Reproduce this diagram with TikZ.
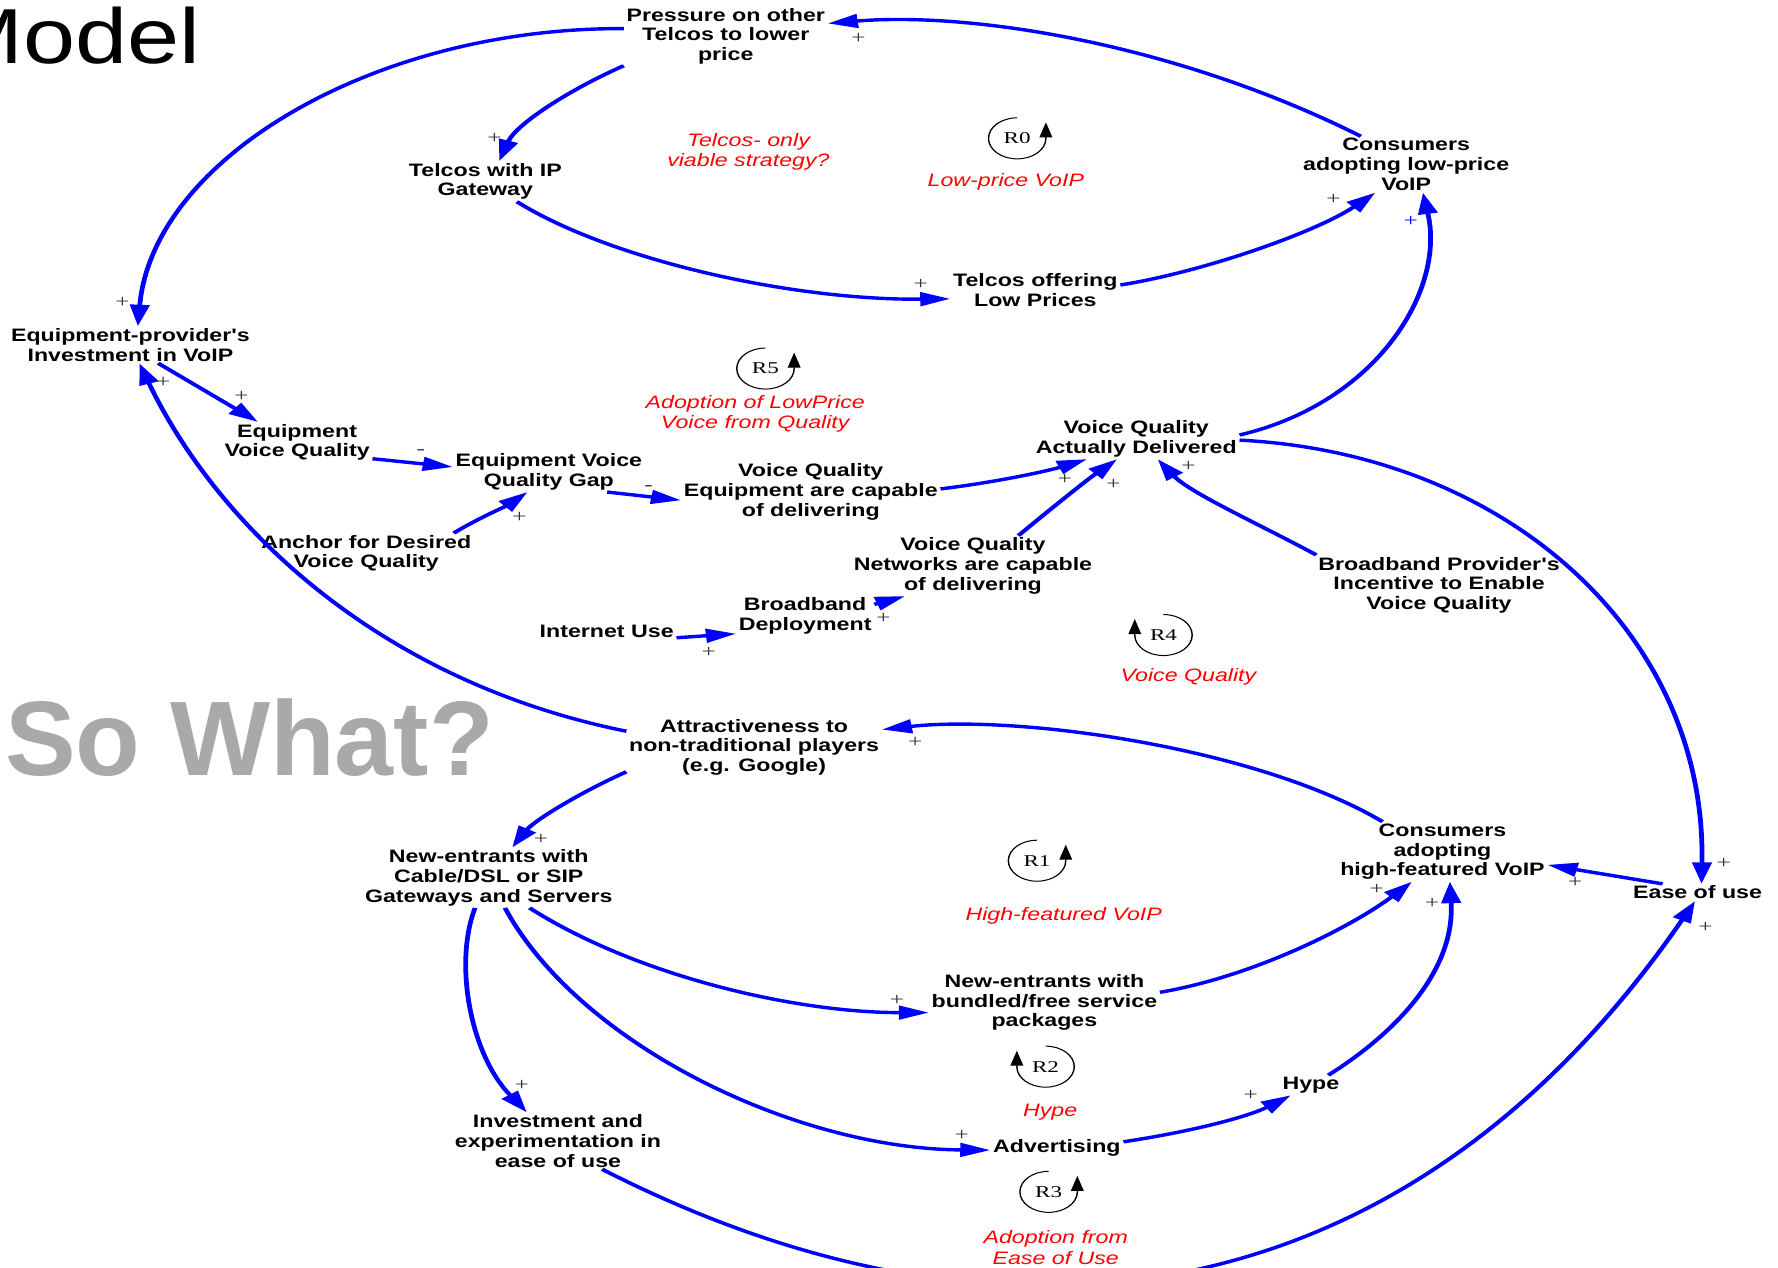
\documentclass[tikz,border=0pt]{standalone}
\usepackage{fontspec}
\setmainfont{Liberation Sans}
\newfontfamily\lblfont{Liberation Sans}[FakeStretch=0.92]
\newfontfamily\loopfont{Liberation Serif}
\newfontfamily\titlefont{Liberation Sans}[FakeStretch=1.2]
\usetikzlibrary{arrows.meta}
\definecolor{linkblue}{RGB}{0,0,255}
\definecolor{swgray}{RGB}{169,169,169}
\definecolor{loopred}{RGB}{255,0,0}

\tikzset{
  var/.style={align=center, inner sep=2pt, outer sep=0pt,
    font=\lblfont\bfseries\fontsize{18}{19.8}\selectfont},
  link/.style={draw=linkblue, line width=3.4pt,
    -{Triangle[length=21.5pt,width=13.5pt]}},
  polar/.style={inner sep=0pt, text=black!80,
    font=\loopfont\fontsize{18}{18}\selectfont},
  loopname/.style={inner sep=0pt, font=\loopfont\fontsize{16.5}{16.5}\selectfont},
  loopdesc/.style={align=center, inner sep=0pt, text=loopred,
    font=\lblfont\itshape\fontsize{18}{20.4}\selectfont},
  looparrow/.style={draw=black, line width=1pt,
    -{Triangle[length=15pt,width=9pt]}},
}

\begin{document}
\begin{tikzpicture}
\useasboundingbox (0pt,0pt) rectangle (1778pt,-1268pt);

% slide titles
\node[anchor=base east, inner sep=0pt,
  font=\titlefont\fontsize{78}{78}\selectfont] (title) at (201pt,-63.3pt) {Model};
\node[anchor=base west, inner sep=0pt, text=swgray,
  font=\bfseries\fontsize{106}{106}\selectfont] (sowhat) at (5pt,-775pt) {So What?};

% causal loop diagram, drawn in a horizontally widened canvas
\begin{scope}[x=0.81pt, y=-1.134pt, transform canvas={xscale=1.4}]

% variables
\node[var] (press)   at (640,32)   {Pressure on other\\Telcos to lower\\price};
\node[var] (ipgw)    at (428,160)  {Telcos with IP\\Gateway};
\node[var] (cheap)   at (1240,145) {Consumers\\adopting low-price\\VoIP};
\node[var] (lowpr)   at (913,256)  {Telcos offering\\Low Prices};
\node[var] (eqinv)   at (115,304)  {Equipment-provider's\\Investment in VoIP};
\node[var] (eqvq)    at (262,390)  {Equipment\\Voice Quality};
\node[var] (gap)     at (484,416)  {Equipment Voice\\Quality Gap};
\node[var] (eqcap)   at (715,434)  {Voice Quality\\Equipment are capable\\of delivering};
\node[var] (vqad)    at (1002,387) {Voice Quality\\Actually Delivered};
\node[var] (anch)    at (323,488)  {Anchor for Desired\\Voice Quality};
\node[var] (netcap)  at (858,499)  {Voice Quality\\Networks are capable\\of delivering};
\node[var] (bbinc)   at (1269,516) {Broadband Provider's\\Incentive to Enable\\Voice Quality};
\node[var] (bbdep)   at (710,543)  {Broadband\\Deployment};
\node[var] (inet)    at (535,557)  {Internet Use};
\node[var] (attr)    at (665,659)  {Attractiveness to\\non-traditional players\\(e.g. Google)};
\node[var] (newcab)  at (431,774)  {New-entrants with\\Cable/DSL or SIP\\Gateways and Servers};
\node[var] (rich)    at (1272,751) {Consumers\\adopting\\high-featured VoIP};
\node[var] (ease)    at (1497,787) {Ease of use};
\node[var] (bundle)  at (921,884)  {New-entrants with\\bundled/free service\\packages};
\node[var] (hype)    at (1156,957) {Hype};
\node[var] (easeinv) at (492,1006) {Investment and\\experimentation in\\ease of use};
\node[var] (advert)  at (932,1012) {Advertising};

% causal links
\draw[link] (cheap.139) .. controls (1040,40) and (860,10) .. (press.10);
\draw[link] (press.174) .. controls (330,24) and (135,140) .. (eqinv.74);
\draw[link] (press.202) .. controls (500,80) and (455,110) .. (ipgw.64);
\draw[link] (ipgw.318) .. controls (540,230) and (700,265) .. (lowpr.188);
\draw[link] (lowpr.5) .. controls (1060,240) and (1160,205) .. (cheap.232);
\draw[link] (vqad.3.5) .. controls (1215,355) and (1275,255) .. (cheap.293);
\draw[link] (vqad.359) .. controls (1330,400) and (1505,560) .. (ease.72);
\draw[link] (eqinv.317) -- (eqvq.144);
\draw[link] (attr.170) .. controls (330,600) and (190,460) .. (eqinv.289);
\draw[link] (eqvq.343) -- (gap.176);
\draw[link] (anch.18) .. controls (420,458) and (445,447) .. (gap.233);
\draw[link] (gap.334) -- (eqcap.185);
\draw[link] (eqcap.2) .. controls (880,425) and (925,415) .. (vqad.210);
\draw[link] (netcap.43) .. controls (925,450) and (960,422) .. (vqad.236);
\draw[link] (bbinc.161) .. controls (1110,462) and (1050,435) .. (vqad.307);
\draw[link] (inet.353) -- (bbdep.200);
\draw[link] (bbdep.13) -- (netcap.212);
\draw[link] (attr.195) .. controls (505,702) and (470,725) .. (newcab.61);
\draw[link] (rich.145) .. controls (1110,660) and (900,630) .. (attr.11);
\draw[link] (newcab.314) .. controls (560,860) and (700,893) .. (bundle.187);
\draw[link] (newcab.291) .. controls (510,920) and (700,1013) .. (advert.183);
\draw[link] (newcab.252) .. controls (400,850) and (415,930) .. (easeinv.128);
\draw[link] (bundle.7) .. controls (1110,860) and (1195,815) .. (rich.234);
\draw[link] (advert.7) .. controls (1050,998) and (1100,985) .. (hype.215);
\draw[link] (hype.39) .. controls (1240,905) and (1283,850) .. (rich.280);
\draw[link] (ease.161) -- (rich.350);
\draw[link] (easeinv.318) .. controls (891,1215) and (1244,1158) .. (ease.258);

% link polarities
\node[polar] (p1)  at (757,34)   {+};
\node[polar] (p2)  at (436,122)  {+};
\node[polar] (p3)  at (108,267)  {+};
\node[polar] (p4)  at (812,251)  {+};
\node[polar] (p5)  at (1176,176) {+};
\node[polar, text=linkblue] (p6) at (1244,195) {+};
\node[polar] (p7)  at (144,337)  {+};
\node[polar] (p8)  at (213,350)  {+};
\node[polar] (p9)  at (371,399)  {-};
\node[polar] (p10) at (458,456)  {+};
\node[polar] (p11) at (572,430)  {-};
\node[polar] (p12) at (939,423)  {+};
\node[polar] (p13) at (982,427)  {+};
\node[polar] (p14) at (1048,411) {+};
\node[polar] (p15) at (779,545)  {+};
\node[polar] (p16) at (625,575)  {+};
\node[polar] (p17) at (477,740)  {+};
\node[polar] (p18) at (807,655)  {+};
\node[polar] (p19) at (1520,761) {+};
\node[polar] (p20) at (1214,784) {+};
\node[polar] (p21) at (1263,797) {+};
\node[polar] (p22) at (1389,778) {+};
\node[polar] (p23) at (1504,818) {+};
\node[polar] (p24) at (791,882)  {+};
\node[polar] (p25) at (460,957)  {+};
\node[polar] (p26) at (848,1001) {+};
\node[polar] (p27) at (1103,966) {+};

% loop markers and their names
\node[loopname] (r0) at (897,122) {R0};
\draw[looparrow] ([yshift=20.5pt]r0.center) arc[start angle=90,end angle=360,radius=20.5pt] -- ++(0pt,16pt);
\node[loopname] (r5) at (675,325) {R5};
\draw[looparrow] ([yshift=20.5pt]r5.center) arc[start angle=90,end angle=360,radius=20.5pt] -- ++(0pt,16pt);
\node[loopname] (r4) at (1026,560) {R4};
\draw[looparrow] ([yshift=20.5pt]r4.center) arc[start angle=90,end angle=-180,radius=20.5pt] -- ++(0pt,16pt);
\node[loopname] (r1) at (914.5,759) {R1};
\draw[looparrow] ([yshift=20.5pt]r1.center) arc[start angle=90,end angle=360,radius=20.5pt] -- ++(0pt,16pt);
\node[loopname] (r2) at (922,940.6) {R2};
\draw[looparrow] ([yshift=20.5pt]r2.center) arc[start angle=90,end angle=-180,radius=20.5pt] -- ++(0pt,16pt);
\node[loopname] (r3) at (924.7,1051) {R3};
\draw[looparrow] ([yshift=20.5pt]r3.center) arc[start angle=90,end angle=360,radius=20.5pt] -- ++(0pt,16pt);

\node[loopdesc] (d0)  at (887,160)   {Low-price VoIP};
\node[loopdesc] (dq)  at (660,134)   {Telcos- only\\viable strategy?};
\node[loopdesc] (d5)  at (666,365)   {Adoption of LowPrice\\Voice from Quality};
\node[loopdesc] (d4)  at (1048,597)  {Voice Quality};
\node[loopdesc] (d1)  at (938,808)   {High-featured VoIP};
\node[loopdesc] (d2)  at (926,981)   {Hype};
\node[loopdesc] (d3)  at (931,1100)  {Adoption from\\Ease of Use};

\end{scope}
\end{tikzpicture}
\end{document}
